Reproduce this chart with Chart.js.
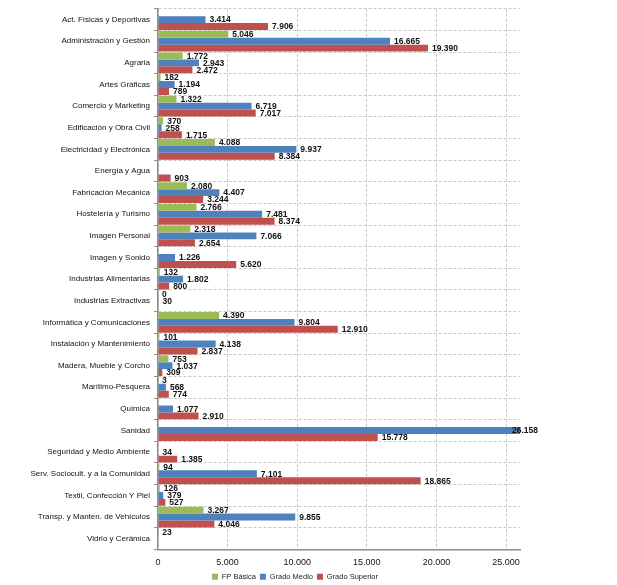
<!DOCTYPE html>
<html>
<head>
<meta charset="utf-8">
<script src="https://cdn.jsdelivr.net/npm/chart.js@4.4.1/dist/chart.umd.min.js"></script>
<style>
    html, body { margin: 0; padding: 0; background: #fff; }
    #wrap { width: 617px; height: 585px; }
</style>
</head>
<body>
<div id="wrap"><canvas id="myChart"></canvas></div>
<script>
const familias = [
    'Act. Físicas y Deportivas', 'Administración y Gestión', 'Agraria', 'Artes Gráficas',
    'Comercio y Marketing', 'Edificación y Obra Civil', 'Electricidad y Electrónica', 'Energía y Agua',
    'Fabricación Mecánica', 'Hostelería y Turismo', 'Imagen Personal', 'Imagen y Sonido',
    'Industrias Alimentarias', 'Industrias Extractivas', 'Informática y Comunicaciones',
    'Instalación y Mantenimiento', 'Madera, Mueble y Corcho', 'Marítimo-Pesquera', 'Química',
    'Sanidad', 'Seguridad y Medio Ambiente', 'Serv. Sociocult. y a la Comunidad',
    'Textil, Confección Y Piel', 'Transp. y Manten. de Vehículos', 'Vidrio y Cerámica'
];
const fpBasica = [null, 5046, 1772, 182, 1322, 370, 4088, null, 2080, 2766, 2318, null, 132, 0, 4390, 101, 753, 3, null, null, null, 94, 126, 3267, 23];
const gradoMedio = [3414, 16665, 2943, 1194, 6719, 258, 9937, null, 4407, 7481, 7066, 1226, 1802, 30, 9804, 4138, 1037, 568, 1077, 26158, 34, 7101, 379, 9855, null];
const gradoSuperior = [7906, 19390, 2472, 789, 7017, 1715, 8384, 903, 3244, 8374, 2654, 5620, 800, null, 12910, 2837, 309, 774, 2910, 15778, 1385, 18865, 527, 4046, null];
const xTicks = [0, 5000, 10000, 15000, 20000, 25000];
const xMax = 26000;

function miles(v) {
    return v.toString().replace(/\B(?=(\d{3})+(?!\d))/g, '.');
}

// etiquetas de valor al final de cada barra
const barLabels = {
    id: 'barLabels',
    afterDatasetsDraw(chart) {
        const ctx = chart.ctx;
        ctx.save();
        ctx.font = 'bold 8.5px "Liberation Sans", Arial, sans-serif';
        ctx.fillStyle = '#111';
        ctx.textBaseline = 'middle';
        ctx.textAlign = 'left';
        chart.data.datasets.forEach((ds, i) => {
            chart.getDatasetMeta(i).data.forEach((bar, j) => {
                const v = ds.data[j];
                if (v === null) return;
                const x = Math.min(bar.x + 4, chart.chartArea.right - 8);
                ctx.fillText(miles(v), x, bar.y + 0.5);
            });
        });
        ctx.restore();
    }
};

// coloca la leyenda como en el original
const legendShift = {
    id: 'legendShift',
    afterLayout(chart) {
        const lg = chart.legend;
        if (!lg) return;
        const dy = 578 - (lg.top + 4 + 5);
        lg.left += 35; lg.right += 35;
        lg.top += dy; lg.bottom += dy;
    }
};

const ctx = document.getElementById('myChart').getContext('2d');
new Chart(ctx, {
    type: 'bar',
    data: {
        labels: familias,
        datasets: [
            { label: 'FP Básica', data: fpBasica, backgroundColor: '#9BBB59' },
            { label: 'Grado Medio', data: gradoMedio, backgroundColor: '#4F81BD' },
            { label: 'Grado Superior', data: gradoSuperior, backgroundColor: '#C0504D' }
        ]
    },
    options: {
        indexAxis: 'y',
        responsive: true,
        maintainAspectRatio: false,
        animation: false,
        categoryPercentage: 0.96,
        barPercentage: 1.0,
        layout: { padding: { left: 0, right: 97, top: 5, bottom: -8 } },
        scales: {
            x: {
                min: 0,
                max: xMax,
                afterBuildTicks: s => { s.ticks = xTicks.map(v => ({ value: v })); },
                afterFit: s => { s.height = 22; },
                grid: { color: '#c8c8c8', drawTicks: false },
                border: { color: '#8c8c8c', width: 1.5, dash: [3, 2] },
                ticks: {
                    padding: 8,
                    color: '#111',
                    font: { family: '"Liberation Sans", Arial, sans-serif', size: 9 },
                    callback: v => miles(v)
                }
            },
            y: {
                afterFit: s => { s.width = 158; },
                grid: { color: '#c8c8c8', offset: true, drawTicks: true, tickLength: 4, tickColor: '#8c8c8c', tickBorderDash: [] },
                border: { color: '#8c8c8c', width: 1.5, dash: [3, 2] },
                ticks: {
                    padding: 4,
                    autoSkip: false,
                    color: '#111',
                    font: { family: '"Liberation Sans Narrow", "Liberation Sans", Arial, sans-serif', size: 8 }
                }
            }
        },
        plugins: {
            legend: {
                position: 'bottom',
                labels: {
                    boxWidth: 6,
                    boxHeight: 6,
                    padding: 4,
                    color: '#222',
                    font: { family: '"Liberation Sans Narrow", "Liberation Sans", Arial, sans-serif', size: 7.5 }
                }
            },
            tooltip: { enabled: false }
        }
    },
    plugins: [barLabels, legendShift]
});
</script>
</body>
</html>
